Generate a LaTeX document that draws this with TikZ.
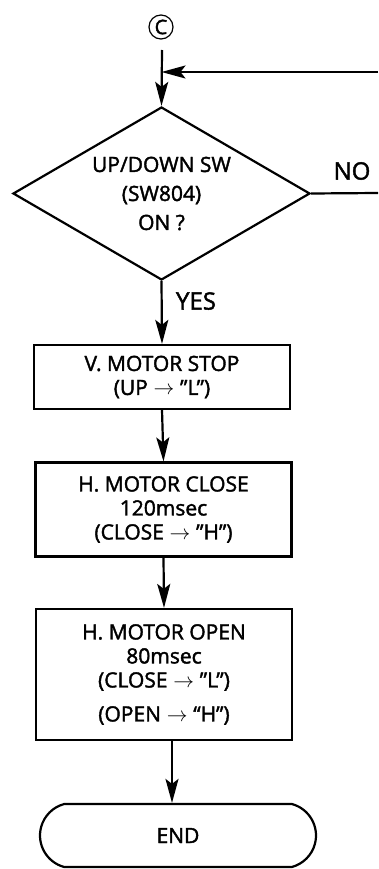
\documentclass[tikz,border=0pt]{standalone}
\usepackage{fontspec}
\setmainfont{Open Sans}[FakeBold=1.8]
\usetikzlibrary{arrows.meta,shapes.geometric,shapes.misc}
\begin{document}
\begin{tikzpicture}[x=1pt,y=-1pt,line width=2.2pt,
  txt/.style={font=\fontsize{21}{24}\selectfont},
  big/.style={font=\fontsize{24}{24}\selectfont},
  blk/.style={draw,txt,minimum width=256pt,align=center,inner sep=0pt},
  ar/.style={-{Stealth[length=24pt,width=13pt,inset=5pt]}}]
 \useasboundingbox (0,0) rectangle (378,869);
 % connector and decision
 \node[circle,draw,line width=1.2pt,minimum size=24pt,inner sep=0pt,
   font=\fontsize{20}{20}\selectfont] (conC) at (161,27) {C};
 \coordinate (cin) at (162,50);
 \coordinate (rin) at (378,72);
 \coordinate (rout) at (378,193);
 \node[diamond,aspect=1.72,draw,align=center,inner sep=0pt,minimum width=297pt,
   minimum height=173pt,font=\fontsize{21}{29}\selectfont] (dec) at (161.5,193.5)
   {UP/DOWN SW\\(SW804)\\ON ?};
 \node[big] (no) at (352,171) {NO};
 \node[big] (yes) at (196,301) {YES};
 % process boxes
 \node[blk,minimum height=64pt] (stop) at (162,377)
   {V. MOTOR STOP\\(UP$\;\rightarrow\;$\textquotedblright L\textquotedblright)};
 \node[blk,minimum height=94pt] (close) at (163.5,509.5)
   {H. MOTOR CLOSE\\120msec\\(CLOSE$\;\rightarrow\;$\textquotedblright H\textquotedblright)};
 \node[blk,minimum height=131pt] (open) at (164,674.5)
   {H. MOTOR OPEN\\80msec\\(CLOSE$\;\rightarrow\;$\textquotedblright L\textquotedblright)\\[10pt]
    (OPEN$\;\rightarrow\;$\textquotedblleft H\textquotedblright)};
 \node[rounded rectangle,rounded rectangle arc length=150,draw,txt,
   minimum width=276pt,minimum height=63pt,inner sep=0pt] (end) at (178,835.5) {END};
 % flow
 \draw[ar] (cin) -- (dec.north);
 \draw[ar] (rin) -- (rin -| dec.north);
 \draw (dec.east) -- (rout);
 \draw[ar] (dec.south) -- (stop.north);
 \draw[ar] (stop.south) -- (close.north);
 \draw[ar] (close.south) -- (open.north);
 \draw[ar] ([xshift=8pt]open.south) -- ([xshift=-6pt]end.north);
\end{tikzpicture}
\end{document}
